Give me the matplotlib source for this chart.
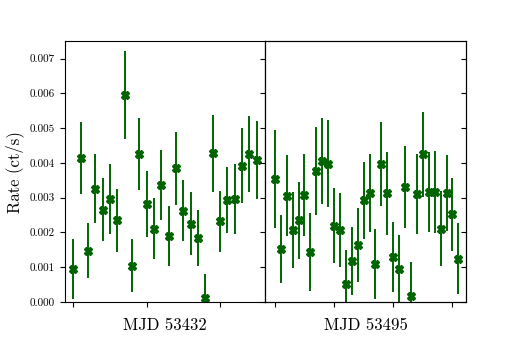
import matplotlib
matplotlib.use("Agg")
import matplotlib.pyplot as plt
import numpy as np

plt.rcParams['font.family'] = 'serif'
plt.rcParams['font.serif'] = ['cmr10']
plt.rcParams['mathtext.fontset'] = 'cm'
plt.rcParams['axes.formatter.use_mathtext'] = True

# MJD 53432
rate_a = [0.00094, 0.00414, 0.00147, 0.00326, 0.00266, 0.00296, 0.00235, 0.00596,
          0.00105, 0.00425, 0.00283, 0.00211, 0.00337, 0.00190, 0.00384, 0.00263,
          0.00225, 0.00184, 0.00012, 0.00428, 0.00232, 0.00293, 0.00296, 0.00392,
          0.00426, 0.00408]
err_a = [0.00086, 0.00104, 0.00079, 0.00100, 0.00091, 0.00100, 0.00091, 0.00126,
         0.00077, 0.00104, 0.00095, 0.00088, 0.00100, 0.00087, 0.00105, 0.00088,
         0.00091, 0.00080, 0.00068, 0.00111, 0.00088, 0.00095, 0.00100, 0.00107,
         0.00110, 0.00113]

# MJD 53495
rate_b = [0.00354, 0.00153, 0.00306, 0.00208, 0.00235, 0.00309, 0.00144, 0.00377,
          0.00405, 0.00398, 0.00219, 0.00208, 0.00052, 0.00117, 0.00164, 0.00292,
          0.00313, 0.00109, 0.00397, 0.00313, 0.00129, 0.00096, 0.00331, 0.00018,
          0.00310, 0.00425, 0.00316, 0.00317, 0.00211, 0.00313, 0.00252, 0.00124]
err_b = [0.00140, 0.00098, 0.00116, 0.00109, 0.00110, 0.00118, 0.00111, 0.00126,
         0.00124, 0.00125, 0.00108, 0.00106, 0.00098, 0.00098, 0.00107, 0.00112,
         0.00112, 0.00100, 0.00120, 0.00119, 0.00100, 0.00098, 0.00118, 0.00098,
         0.00115, 0.00122, 0.00114, 0.00118, 0.00108, 0.00110, 0.00106, 0.00102]

labels = ['MJD 53432', 'MJD 53495']

fig, (ax1, ax2) = plt.subplots(1, 2, sharey=True, figsize=(5.19, 3.46), dpi=100)
fig.subplots_adjust(left=0.125, right=0.898, bottom=0.127, top=0.881, wspace=0)

for ax, rate, err, lab in [(ax1, rate_a, err_a, labels[0]), (ax2, rate_b, err_b, labels[1])]:
    x = np.arange(len(rate))
    ax.errorbar(x, rate, yerr=err, fmt='X', color='darkgreen', ms=6,
                elinewidth=1.4, capsize=0)
    ax.set_xticks(np.arange(0, len(rate), 10))
    ax.set_xticklabels([])
    ax.set_xlabel(lab, fontsize=12)
    ax.tick_params(direction='out', labelsize=8)

ax1.set_xlim(-1.14, 26.2)
ax2.set_xlim(-1.58, 32.3)
ax1.set_ylim(0, 0.0075)
ax1.set_yticks(np.arange(0, 0.0071, 0.001))
ax1.set_yticklabels(['%.3f' % v for v in np.arange(0, 0.0071, 0.001)])
ax1.set_ylabel('Rate (ct/s)', fontsize=12)
ax2.tick_params(axis='y', labelleft=False)

# inward ticks on the far right spine
tw = ax2.twinx()
tw.set_ylim(ax1.get_ylim())
tw.set_yticks(ax1.get_yticks())
tw.tick_params(direction='in', labelright=False)

fig.savefig('out.png', dpi=100)
